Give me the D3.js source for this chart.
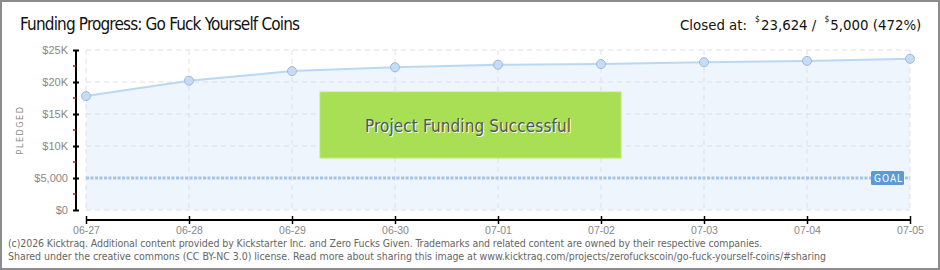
<!DOCTYPE html>
<html>
<head>
<script src="https://cdn.jsdelivr.net/npm/d3@7"></script>
<style>
    body { margin: 0; background: #fff; }
    svg { display: block; font-family: "DejaVu Sans Condensed", "DejaVu Sans", sans-serif; }
</style>
</head>
<body>
<script>
// chart data
var dates = ['06-27', '06-28', '06-29', '06-30', '07-01', '07-02', '07-03', '07-04', '07-05'];
var pledged = [17800, 20200, 21700, 22300, 22700, 22800, 23100, 23300, 23624];
var goal = 5000;
var yTicks = [0, 5000, 10000, 15000, 20000, 25000];
var yTickLabels = ['$0', '$5,000', '$10K', '$15K', '$20K', '$25K'];

var W = 940, H = 270;
var svg = d3.select('body').append('svg').attr('width', W).attr('height', H);

svg.append('rect').attr('x', 1).attr('y', 1).attr('width', W - 2).attr('height', H - 2)
    .attr('fill', '#fff').attr('stroke', '#8c8c8c').attr('stroke-width', 2);

var x = d3.scalePoint().domain(dates).range([86, 910]);
var y = d3.scaleLinear().domain([0, 25000]).range([210, 50]);

// area + grid
var area = d3.area().x(function(d, i) { return x(dates[i]); }).y0(y(0)).y1(function(d) { return y(d); });
svg.append('path').datum(pledged).attr('d', area).attr('fill', '#eef5fd');

svg.append('g').selectAll('line').data(yTicks).enter().append('line')
    .attr('x1', 86).attr('x2', 910).attr('y1', function(d) { return y(d); }).attr('y2', function(d) { return y(d); })
    .attr('stroke', '#e0e0e0').attr('stroke-dasharray', '5,4');
svg.append('g').selectAll('line').data(dates).enter().append('line')
    .attr('y1', 50).attr('y2', 210).attr('x1', function(d) { return x(d); }).attr('x2', function(d) { return x(d); })
    .attr('stroke', '#e0e0e0').attr('stroke-dasharray', '5,4');

// y axis
var yAxis = svg.append('g').attr('transform', 'translate(76,0)')
    .call(d3.axisLeft(y).tickValues(yTicks).tickSize(3).tickFormat(function(d, i) { return yTickLabels[i]; }));
yAxis.select('.domain').attr('d', 'M0,' + y(25000) + 'V' + y(0)).attr('stroke', '#000').attr('stroke-width', 2);
yAxis.selectAll('.tick line').attr('x1', -3).attr('x2', 3).attr('stroke', '#000').attr('stroke-width', 2);
yAxis.selectAll('.tick text').attr('x', -8).attr('fill', '#888').style('font-size', '11px');
// red minor ticks
svg.append('g').selectAll('line').data(yTicks.slice(0, 5)).enter().append('line')
    .attr('x1', 73).attr('x2', 76).attr('y1', function(d) { return y(d + 2500); }).attr('y2', function(d) { return y(d + 2500); })
    .attr('stroke', '#e00').attr('stroke-width', 1.5);

// x axis
var xAxis = svg.append('g').attr('transform', 'translate(0,220)')
    .call(d3.axisBottom(x).tickSize(0).tickPadding(7));
xAxis.select('.domain').attr('d', 'M86,0H910').attr('stroke', '#000').attr('stroke-width', 2);
xAxis.selectAll('.tick').append('line').attr('y1', -4).attr('y2', 4).attr('stroke', '#000').attr('stroke-width', 1.5);
xAxis.selectAll('.tick text').attr('fill', '#888').style('font-size', '10.5px');

svg.append('text').attr('transform', 'translate(23,130) rotate(-90)').attr('text-anchor', 'middle')
    .attr('fill', '#888').style('font-size', '9px').style('letter-spacing', '1.5px').text('PLEDGED');

// goal line
svg.append('line').attr('x1', 86).attr('x2', 910).attr('y1', y(goal)).attr('y2', y(goal))
    .attr('stroke', '#a6c4e4').attr('stroke-width', 3).attr('stroke-dasharray', '3,1.5');
svg.append('rect').attr('x', 871).attr('y', y(goal) - 7).attr('width', 33).attr('height', 14).attr('rx', 1.5)
    .attr('fill', '#5a9ad8');
svg.append('text').attr('x', 874).attr('y', y(goal) + 4).attr('fill', '#fff').style('font-size', '10px')
    .style('letter-spacing', '1px').text('GOAL');

// pledge line + points
var line = d3.line().x(function(d, i) { return x(dates[i]); }).y(function(d) { return y(d); });
svg.append('path').datum(pledged).attr('d', line).attr('fill', 'none').attr('stroke', '#b9d8f4').attr('stroke-width', 2);
svg.selectAll('circle.pt').data(pledged).enter().append('circle').attr('class', 'pt')
    .attr('cx', function(d, i) { return x(dates[i]); }).attr('cy', function(d) { return y(d); }).attr('r', 4.5)
    .attr('fill', '#c5dcf6').attr('stroke', '#9fb8d6').attr('stroke-width', 1);

// success box
svg.append('rect').attr('x', 320).attr('y', 92).attr('width', 301).attr('height', 66)
    .attr('fill', '#a8df55').attr('stroke', '#b8ec70').attr('stroke-width', 1);
svg.append('text').attr('x', 469).attr('y', 133).attr('text-anchor', 'middle').attr('fill', '#fff')
    .style('font-size', '17px').attr('textLength', 206).text('Project Funding Successful');
svg.append('text').attr('x', 468).attr('y', 132).attr('text-anchor', 'middle').attr('fill', '#555')
    .style('font-size', '17px').attr('textLength', 206).text('Project Funding Successful');

// header
svg.append('text').attr('x', 20).attr('y', 30).attr('fill', '#111').style('font-size', '17px')
    .attr('textLength', 280).text('Funding Progress: Go Fuck Yourself Coins');

// right header, laid out piece by piece so the small superscript $ signs sit cleanly
var pieces = [
    { t: 'Closed at:', big: true, gap: 8 },
    { t: '$', big: false, gap: 1 },
    { t: '23,624 /', big: true, gap: 8 },
    { t: '$', big: false, gap: 1 },
    { t: '5,000 (472%)', big: true, gap: 0 }
];
var hdr = svg.append('g');
var nodes = pieces.map(function(p) {
    return hdr.append('text').attr('fill', '#111').style('font-size', p.big ? '17px' : '8.5px').text(p.t);
});
var total = 0;
pieces.forEach(function(p, i) { total += nodes[i].node().getComputedTextLength() + p.gap; });
var fs = 17 * 238 / total;
var cx = 680;
pieces.forEach(function(p, i) {
    var n = nodes[i];
    if (p.big) n.style('font-size', fs + 'px');
    n.attr('x', cx).attr('y', p.big ? 30 : 22);
    cx += n.node().getComputedTextLength() + p.gap;
});

// footer
svg.append('text').attr('x', 8).attr('y', 247).attr('fill', '#666').style('font-size', '10.5px')
    .attr('textLength', 754)
    .text('(c)2026 Kicktraq. Additional content provided by Kickstarter Inc. and Zero Fucks Given. Trademarks and related content are owned by their respective companies.');
svg.append('text').attr('x', 8).attr('y', 260).attr('fill', '#666').style('font-size', '10.5px')
    .attr('textLength', 818)
    .text('Shared under the creative commons (CC BY-NC 3.0) license. Read more about sharing this image at www.kicktraq.com/projects/zerofuckscoin/go-fuck-yourself-coins/#sharing');
</script>
</body>
</html>
